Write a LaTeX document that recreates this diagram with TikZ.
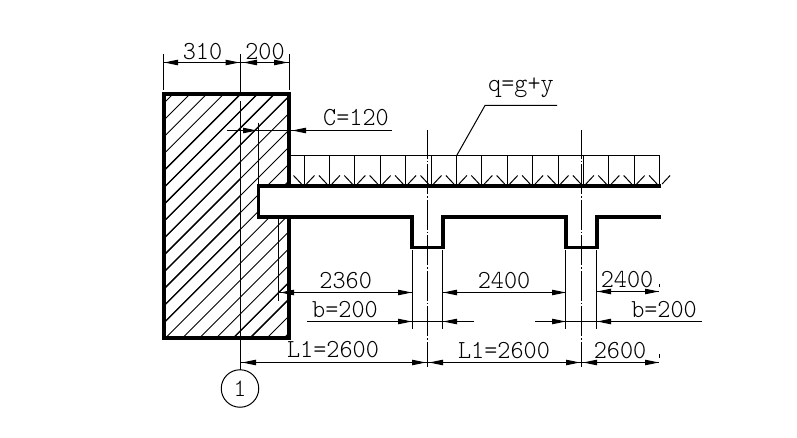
\documentclass[tikz,border=0pt]{standalone}
\usepackage{fontspec}
\newfontfamily\cadfont[FakeStretch=0.96]{Latin Modern Mono Light}
\usetikzlibrary{arrows.meta}
\tikzset{
  thin line/.style={line width=1pt},
  heavy/.style={line width=3.6pt,line cap=butt,line join=miter},
  dimtip/.style={line width=1pt,-{Triangle[length=14pt,width=5.4pt]}},
  axisline/.style={line width=1pt,dash pattern=on 30pt off 2pt on 1.5pt off 2pt,dash phase=1.25pt},
  cadtext/.style={inner sep=0pt,font=\cadfont\fontsize{26}{26}\selectfont},
}
\begin{document}
\begin{tikzpicture}[x=1pt,y=-1pt]
\useasboundingbox (0,0) rectangle (797,438);
\fill[white] (0,0) rectangle (797,438);
% hatch
\begin{scope}
\clip (165,95) rectangle (288,336);
\foreach \k in {0,...,23} {
  \pgfmathsetmacro\c{267+16.9*\k}
  \draw[line width=0.9pt] (\c-345,345) -- (\c-85,85);
}
\foreach \k in {4,5,6,7,18,19} {
  \pgfmathsetmacro\c{267+16.9*\k}
  \draw[line width=1.3pt] (\c-345,345) -- (\c-85,85);
}
\begin{scope}
\clip (165,95) rectangle (240,336);
\foreach \k in {8,...,13} {
  \pgfmathsetmacro\c{267+16.9*\k}
  \draw[line width=1.3pt] (\c-345,345) -- (\c-85,85);
}
\end{scope}
\end{scope}
\fill[white] (258,186) rectangle (292,217);
% load
\draw[thin line] (289,155.5) -- (659.6,155.5);
\foreach \i in {0,...,14} {
  \pgfmathsetmacro\xx{304+25.4*\i}
  \draw[thin line] (\xx,155.5) -- (\xx,185);
  \draw[thin line] (\xx-10.5,175.5) -- (\xx-2.5,184);
  \draw[thin line] (\xx+10.5,175.5) -- (\xx+2.5,184);
}
% leader
\draw[thin line] (456.7,155.5) -- (485,105.5) -- (557,105.5);
% axes
\draw[thin line] (240.5,54) -- (240.5,96);
\draw[thin line] (240.5,101) -- (240.5,369.5);
\draw[axisline] (427.5,130) -- (427.5,366.5);
\draw[axisline] (581.5,130) -- (581.5,366.5);
% extension lines
\draw[thin line] (163.5,54) -- (163.5,90);
\draw[thin line] (289.5,54) -- (289.5,90);
\draw[thin line] (258.5,122.7) -- (258.5,185);
\draw[thin line] (278.5,216) -- (278.5,300.7);
\foreach \xx in {412.5,442.5,565.5,596.5}
  \draw[thin line] (\xx,250) -- (\xx,329);
% dimension lines
\draw[thin line] (164,62.5) -- (289,62.5);
\draw[thin line] (227,130.5) -- (392,130.5);
\draw[thin line] (279,292.5) -- (412,292.5);
\draw[thin line] (443,292.5) -- (566,292.5);
\draw[thin line] (597,291.5) -- (659,291.5);
\draw[thin line] (307,321.5) -- (474,321.5);
\draw[thin line] (535,321.5) -- (702,321.5);
\draw[thin line] (240,362.5) -- (659,362.5);
\draw[thin line] (659.5,284) -- (659.5,287);
\draw[thin line] (659.5,354) -- (659.5,358);
% arrowheads
\foreach \a/\b/\yy in {
  180/164/62.5, 226/239.5/62.5, 257/243/62.5, 274/288/62.5,
  243/257/130.5, 306/292/130.5,
  294/280/292.5, 398/412/292.5, 457/443/292.5, 552/566/292.5,
  611/597/291.5, 645/659/291.5,
  398/412/321.5, 457/443/321.5, 552/566/321.5, 611/597/321.5,
  256/242/362.5, 412/426/362.5, 443/429/362.5, 566/580/362.5,
  597/583/362.5, 645/659/362.5}
  \draw[dimtip] (\a,\yy) -- (\b,\yy);
% structure
\draw[heavy] (289,186) -- (289,94) -- (164,94) -- (164,337.8) -- (289,337.8) -- (289,217);
\draw[heavy] (661,186) -- (258.3,186) -- (258.3,217) -- (412,217) -- (412,247.5) -- (443,247.5) -- (443,217) -- (566,217) -- (566,247.5) -- (597,247.5) -- (597,217) -- (661,217);
% texts
\node[cadtext] (t310) at (202.5,52) {310};
\node[cadtext] (t200) at (265,52) {200};
\node[cadtext] (tc) at (356,118) {C=120};
\node[cadtext] (tq) at (521,88) {q=g+y};
\node[cadtext] (t2360) at (345.7,281) {2360};
\node[cadtext] (tb1) at (345,310) {b=200};
\node[cadtext] (tl1) at (333,350) {L1=2600};
\node[cadtext] (t2400) at (504,281) {2400};
\node[cadtext] (t2400b) at (627,280) {2400};
\node[cadtext] (tb2) at (664,310) {b=200};
\node[cadtext] (tl2) at (504,350.5) {L1=2600};
\node[cadtext] (t2600) at (620,350.5) {2600};
\node[draw,circle,thin line,minimum size=37.5pt,inner sep=0pt,font=\cadfont\fontsize{25}{25}\selectfont] (axis1) at (240,388.5) {1};
\end{tikzpicture}
\end{document}
